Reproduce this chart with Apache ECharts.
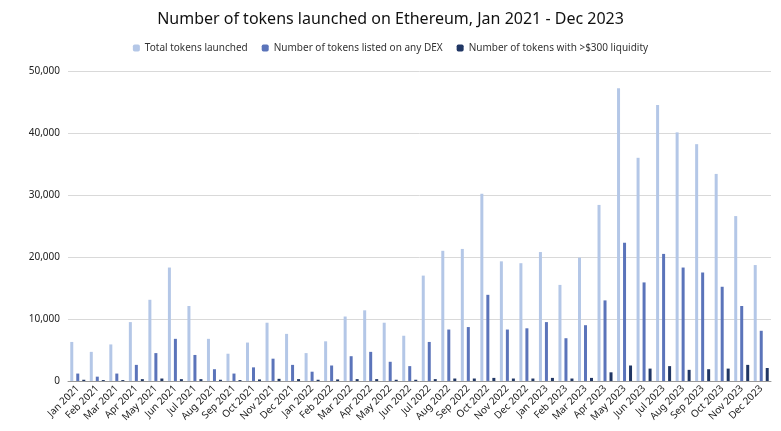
<!DOCTYPE html>
<html><head><meta charset="utf-8">
<script src="https://cdn.jsdelivr.net/npm/echarts@6/dist/echarts.min.js"></script>
<style>body{margin:0;background:#fff}#c{width:781px;height:431px}</style>
</head><body><div id="c"></div>
<script>
var months = ['Jan','Feb','Mar','Apr','May','Jun','Jul','Aug','Sep','Oct','Nov','Dec'];
var categories = [];
[2021, 2022, 2023].forEach(function (y) { months.forEach(function (m) { categories.push(m + ' ' + y); }); });

var totalLaunched = [6300,4700,5900,9500,13100,18300,12100,6800,4400,6200,9400,7600,
                     4500,6400,10400,11400,9400,7300,17000,21000,21300,30200,19300,19000,
                     20800,15500,19900,28400,47200,36000,44500,40100,38200,33400,26600,18700];
var listedDex = [1200,700,1200,2600,4500,6800,4200,1900,1200,2200,3600,2600,
                 1500,2500,4000,4700,3100,2400,6300,8300,8700,13900,8300,8500,
                 9500,6900,9000,13000,22300,15900,20500,18300,17500,15200,12100,8100];
var liquidity = [200,150,150,300,400,300,300,200,150,250,350,300,
                 200,250,300,300,200,200,300,400,400,500,400,400,
                 500,400,500,1400,2500,2000,2400,1800,1900,2000,2600,2100];

var font = 'Noto Sans';
var chart = echarts.init(document.getElementById('c'));
chart.setOption({
    animation: false,
    title: {
        text: 'Number of tokens launched on Ethereum, Jan 2021 - Dec 2023',
        left: 'center', top: 6,
        textStyle: {fontFamily: font, fontSize: 16, fontWeight: 'normal', color: '#111'}
    },
    legend: {
        top: 38, itemWidth: 7, itemHeight: 7, itemGap: 14,
        textStyle: {fontFamily: font, fontSize: 10, color: '#333'}
    },
    grid: {left: 68, right: 10, top: 71, bottom: 50},
    xAxis: {
        type: 'category', data: categories,
        axisTick: {show: false},
        axisLine: {lineStyle: {color: '#999'}},
        axisLabel: {interval: 0, rotate: 45, fontFamily: font, fontSize: 10, color: '#222', margin: 6}
    },
    yAxis: {
        type: 'value', min: 0, max: 50000, interval: 10000,
        axisLine: {show: false}, axisTick: {show: false},
        splitLine: {lineStyle: {color: '#d9d9d9'}},
        axisLabel: {fontFamily: font, fontSize: 10, color: '#222',
            formatter: function (v) { return v.toLocaleString('en-US'); }}
    },
    series: [
        {name: 'Total tokens launched', type: 'bar', data: totalLaunched, barWidth: 3, barGap: '100%', itemStyle: {color: '#b4c7e7'}},
        {name: 'Number of tokens listed on any DEX', type: 'bar', data: listedDex, barWidth: 3, barGap: '100%', itemStyle: {color: '#5b74ba'}},
        {name: 'Number of tokens with >$300 liquidity', type: 'bar', data: liquidity, barWidth: 3, barGap: '100%', itemStyle: {color: '#203664'}}
    ]
});
</script></body></html>
